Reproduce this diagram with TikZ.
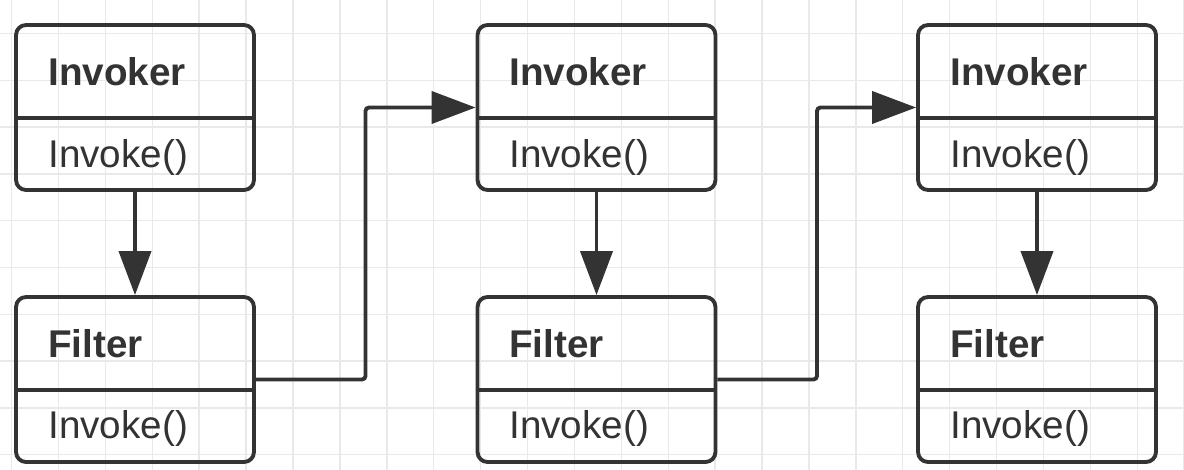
\documentclass[tikz,border=0pt]{standalone}
\usepackage{fontspec}
\setmainfont{Liberation Sans}
\usetikzlibrary{arrows.meta}
\definecolor{linegray}{HTML}{333333}
\definecolor{gridgray}{HTML}{E9E9E9}

\begin{document}
\begin{tikzpicture}[x=0.02cm,y=-0.02cm,
	gridline/.style={draw=gridgray,line width=0.8pt},
	classbox/.style={draw=linegray,line width=2.2pt,rounded corners=0.2cm,minimum width=4.76cm,minimum height=3.3cm,inner sep=0},
	divider/.style={draw=linegray,line width=2.2pt},
	classname/.style={anchor=base west,inner sep=0,text=linegray,font=\fontsize{22}{26}\selectfont\bfseries},
	methodname/.style={anchor=base west,inner sep=0,text=linegray,font=\fontsize{22}{26}\selectfont},
	flow/.style={draw=linegray,line width=2.2pt,rounded corners=2pt,-{Triangle[length=0.88cm,width=0.64cm]}}]

	% background grid
	\useasboundingbox (0,0) rectangle (1184,470);
	\fill[white] (0,0) rectangle (1184,470);
	\foreach \gx in {0,...,25} \draw[gridline] (11.6+46.9*\gx,0) -- (11.6+46.9*\gx,470);
	\foreach \gy in {0,...,9} \draw[gridline] (0,33.5+46.8*\gy) -- (1184,33.5+46.8*\gy);

	\node[classbox] (inv1) at (135,107.5) {};
	\node[classbox] (fil1) at (135,379.5) {};
	\node[classbox] (inv2) at (596.5,107.5) {};
	\node[classbox] (fil2) at (596.5,379.5) {};
	\node[classbox] (inv3) at (1037,107.5) {};
	\node[classbox] (fil3) at (1037,379.5) {};

	\draw[divider] (inv1.west |- 0,118) -- (inv1.east |- 0,118);
	\draw[divider] (fil1.west |- 0,390) -- (fil1.east |- 0,390);
	\draw[divider] (inv2.west |- 0,118) -- (inv2.east |- 0,118);
	\draw[divider] (fil2.west |- 0,390) -- (fil2.east |- 0,390);
	\draw[divider] (inv3.west |- 0,118) -- (inv3.east |- 0,118);
	\draw[divider] (fil3.west |- 0,390) -- (fil3.east |- 0,390);

	\node[classname] (inv1name) at (48,85) {Invoker};
	\node[methodname] (inv1call) at (48,167) {Invoke()};
	\node[classname] (fil1name) at (48,357) {Filter};
	\node[methodname] (fil1call) at (48,438) {Invoke()};
	\node[classname] (inv2name) at (509,85) {Invoker};
	\node[methodname] (inv2call) at (509,167) {Invoke()};
	\node[classname] (fil2name) at (509,357) {Filter};
	\node[methodname] (fil2call) at (509,438) {Invoke()};
	\node[classname] (inv3name) at (950,85) {Invoker};
	\node[methodname] (inv3call) at (950,167) {Invoke()};
	\node[classname] (fil3name) at (950,357) {Filter};
	\node[methodname] (fil3call) at (950,438) {Invoke()};

	\coordinate (turn1) at (365.5,107.5);
	\coordinate (turn2) at (817,107.5);

	\draw[flow] (inv1) -- (fil1);
	\draw[flow] (fil1.east) -| (turn1) -- (inv2.west);
	\draw[flow] (inv2) -- (fil2);
	\draw[flow] (fil2.east) -| (turn2) -- (inv3.west);
	\draw[flow] (inv3) -- (fil3);
\end{tikzpicture}
\end{document}
